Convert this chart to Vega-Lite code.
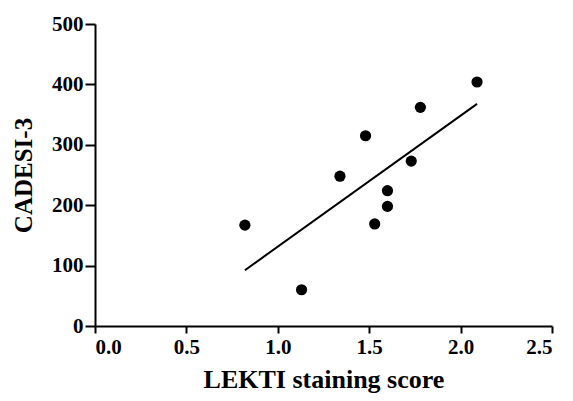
{
  "$schema": "https://vega.github.io/schema/vega-lite/v6.json",
  "width": 457,
  "height": 302,
  "autosize": "none",
  "padding": {"left": 95, "top": 24, "right": 21, "bottom": 75},
  "background": "white",
  "config": {
    "view": {"stroke": null},
    "axis": {
      "grid": false,
      "domainColor": "black",
      "domainWidth": 2,
      "tickColor": "black",
      "tickWidth": 2,
      "labelFont": "Liberation Serif",
      "labelFontWeight": "bold",
      "labelFontSize": 21,
      "labelColor": "black",
      "titleFont": "Liberation Serif",
      "titleFontWeight": "bold",
      "titleColor": "black"
    }
  },
  "data": {
    "values": [
      {"lekti": 0.82, "cadesi": 167},
      {"lekti": 1.13, "cadesi": 60},
      {"lekti": 1.34, "cadesi": 248},
      {"lekti": 1.48, "cadesi": 315},
      {"lekti": 1.53, "cadesi": 169},
      {"lekti": 1.60, "cadesi": 198},
      {"lekti": 1.60, "cadesi": 224},
      {"lekti": 1.73, "cadesi": 273},
      {"lekti": 1.78, "cadesi": 362},
      {"lekti": 2.09, "cadesi": 404}
    ]
  },
  "layer": [
    {
      "mark": {"type": "point", "filled": true, "color": "black", "size": 125, "opacity": 1},
      "encoding": {
        "x": {"field": "lekti", "type": "quantitative", "scale": {"domain": [0, 2.5], "nice": false},
          "axis": {"values": [0, 0.5, 1, 1.5, 2, 2.5], "format": ".1f", "title": "LEKTI staining score", "titleFontSize": 26, "tickSize": 7, "titlePadding": 9, "labelPadding": 3}},
        "y": {"field": "cadesi", "type": "quantitative", "scale": {"domain": [0, 500], "nice": false},
          "axis": {"values": [0, 100, 200, 300, 400, 500], "title": "CADESI-3", "titleFontSize": 25, "tickSize": 10, "titlePadding": 15, "labelPadding": 2}}
      }
    },
    {
      "transform": [{"regression": "cadesi", "on": "lekti"}],
      "mark": {"type": "line", "color": "black", "strokeWidth": 2},
      "encoding": {
        "x": {"field": "lekti", "type": "quantitative"},
        "y": {"field": "cadesi", "type": "quantitative"}
      }
    }
  ]
}
